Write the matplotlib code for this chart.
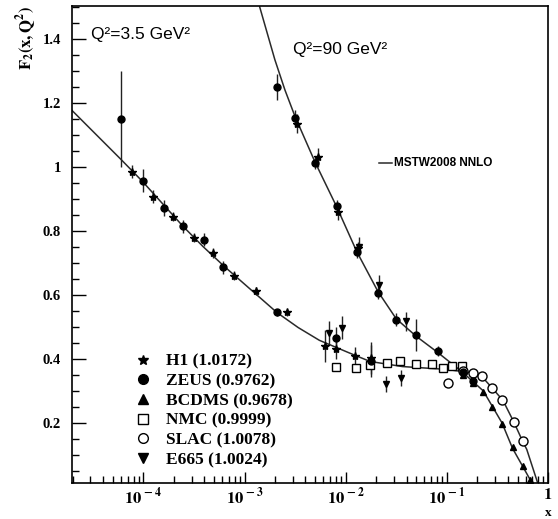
import numpy as np
import matplotlib
matplotlib.use("Agg")
import matplotlib.pyplot as plt
from matplotlib.lines import Line2D
from matplotlib.ticker import FixedLocator, FuncFormatter, LogLocator, MultipleLocator

plt.rcParams['mathtext.fontset'] = 'stix'
plt.rcParams['font.family'] = 'Liberation Serif'

# MSTW2008 NNLO curves, (log10 x, F2)
th_lo_logx = [-4.71, -4.22, -4.01, -3.79, -3.61, -3.41, -3.20, -2.94, -2.68,
              -2.47, -2.26, -1.96, -1.76, -1.44, -1.0, -0.77, -0.64, -0.555, -0.445,
              -0.34, -0.25, -0.21, -0.11, -0.09]
th_lo_f2 = [1.178, 1.023, 0.955, 0.878, 0.815, 0.751, 0.689, 0.617, 0.545,
            0.498, 0.458, 0.418, 0.392, 0.376, 0.367, 0.357, 0.34, 0.31, 0.27,
            0.204, 0.142, 0.117, 0.02, 0.0]
th_hi_logx = [-2.85, -2.70, -2.60, -2.50, -2.30, -2.09, -1.89, -1.68, -1.50, -1.30,
              -1.09, -0.84, -0.64, -0.455, -0.35, -0.25, -0.16, -0.14]
th_hi_f2 = [1.50, 1.335, 1.24, 1.157, 1.013, 0.876, 0.735, 0.61, 0.525, 0.47,
            0.42, 0.357, 0.30, 0.20, 0.12, 0.064, 0.013, 0.0]

# Q2 = 3.5 GeV2 data
h1_lo_logx = [-4.11, -3.90, -3.71, -3.50, -3.31, -3.10, -2.89, -2.58, -2.20, -2.10, -1.91, -1.75]
h1_lo_f2 = [0.985, 0.907, 0.845, 0.779, 0.731, 0.660, 0.613, 0.545, 0.44, 0.43, 0.408, 0.404]
h1_lo_err = [0.02, 0.02, 0.015, 0.015, 0.015, 0.015, 0.012, 0.012, 0.05, 0.03, 0.03, 0.05]
zeus_lo_logx = [-4.22, -4.00, -3.80, -3.61, -3.40, -3.21, -2.68, -2.10, -1.75]
zeus_lo_f2 = [1.151, 0.957, 0.873, 0.814, 0.772, 0.686, 0.545, 0.464, 0.392]
zeus_lo_err = [0.15, 0.035, 0.025, 0.02, 0.02, 0.02, 0.01, 0.035, 0.05]
e665_lo_logx = [-2.16, -2.04, -1.60, -1.45]
e665_lo_f2 = [0.482, 0.498, 0.323, 0.34]
e665_lo_err = [0.035, 0.035, 0.025, 0.025]
nmc_logx = [-2.10, -1.90, -1.76, -1.59, -1.46, -1.30, -1.15, -1.04, -0.95, -0.85]
nmc_f2 = [0.375, 0.370, 0.382, 0.388, 0.392, 0.384, 0.384, 0.372, 0.377, 0.377]
slac_logx = [-0.99, -0.84, -0.74, -0.65, -0.555, -0.45, -0.34, -0.25]
slac_f2 = [0.326, 0.362, 0.357, 0.345, 0.31, 0.273, 0.204, 0.142]

# Q2 = 90 GeV2 data
zeus_hi_logx = [-2.68, -2.50, -2.30, -2.09, -1.89, -1.68, -1.50, -1.30, -1.09, -0.84, -0.74]
zeus_hi_f2 = [1.25, 1.154, 1.013, 0.878, 0.735, 0.607, 0.523, 0.476, 0.425, 0.358, 0.33]
zeus_hi_err = [0.04, 0.025, 0.02, 0.02, 0.02, 0.02, 0.02, 0.05, 0.015, 0.015, 0.015]
h1_hi_logx = [-2.48, -2.27, -2.08, -1.88]
h1_hi_f2 = [1.135, 1.03, 0.86, 0.745]
h1_hi_err = [0.03, 0.03, 0.025, 0.02]
e665_hi_logx = [-1.87, -1.67, -1.40]
e665_hi_f2 = [0.751, 0.632, 0.517]
e665_hi_err = [0.03, 0.03, 0.03]
bcdms_logx = [-0.84, -0.74, -0.64, -0.555, -0.455, -0.35, -0.25, -0.18]
bcdms_f2 = [0.35, 0.326, 0.295, 0.25, 0.195, 0.123, 0.064, 0.022]

legend_labels = ["H1 (1.0172)", "ZEUS (0.9762)", "BCDMS (0.9678)",
                 "NMC (0.9999)", "SLAC (1.0078)", "E665 (1.0024)"]


def lx(v):
    return 10.0 ** np.asarray(v)


fig = plt.figure(figsize=(5.58, 5.19), dpi=100)
ax = fig.add_axes([72 / 558, 36 / 519, 476 / 558, 477 / 519])

line_kw = dict(color='#2a2a2a', lw=1.1, zorder=2)
ax.plot(lx(th_lo_logx), th_lo_f2, **line_kw)
ax.plot(lx(th_hi_logx), th_hi_f2, **line_kw)

eb = dict(color='black', ecolor='#222222', elinewidth=1.0, capsize=0, ls='none', zorder=3)
ax.errorbar(lx(h1_lo_logx), h1_lo_f2, yerr=h1_lo_err, marker='*', ms=6, **eb)
ax.errorbar(lx(h1_hi_logx), h1_hi_f2, yerr=h1_hi_err, marker='*', ms=6, **eb)
ax.errorbar(lx(zeus_lo_logx), zeus_lo_f2, yerr=zeus_lo_err, marker='o', ms=5, **eb)
ax.errorbar(lx(zeus_hi_logx), zeus_hi_f2, yerr=zeus_hi_err, marker='o', ms=5, **eb)
ax.errorbar(lx(e665_lo_logx), e665_lo_f2, yerr=e665_lo_err, marker='v', ms=4.5, **eb)
ax.errorbar(lx(e665_hi_logx), e665_hi_f2, yerr=e665_hi_err, marker='v', ms=4.5, **eb)
ax.plot(lx(bcdms_logx), bcdms_f2, ls='none', marker='^', ms=4.5, color='black', zorder=3)
ax.plot(lx(nmc_logx), nmc_f2, ls='none', marker='s', ms=6, mfc='white', mec='black',
        mew=1.0, zorder=3)
ax.plot(lx(slac_logx), slac_f2, ls='none', marker='o', ms=6.5, mfc='white', mec='black',
        mew=1.0, zorder=3)

ax.set_xscale('log')
ax.set_xlim(1.97e-5, 1.0)
ax.set_ylim(0.012, 1.503)

ax.xaxis.set_major_locator(FixedLocator([1e-4, 1e-3, 1e-2, 1e-1, 1.0]))
ax.xaxis.set_minor_locator(LogLocator(base=10, subs=np.arange(2, 10), numticks=20))


def xfmt(v, pos):
    e = int(round(np.log10(v)))
    if e == 0:
        return r'$\mathbf{1}$'
    return r'$\mathbf{10^{\,%d}}$' % e


ax.xaxis.set_major_formatter(FuncFormatter(xfmt))
ax.yaxis.set_major_locator(FixedLocator([0.2, 0.4, 0.6, 0.8, 1.0, 1.2, 1.4]))
ax.yaxis.set_minor_locator(MultipleLocator(0.05))
ax.yaxis.set_major_formatter(FuncFormatter(lambda v, p: '1' if abs(v - 1) < 1e-6 else '%.1f' % v))

ax.tick_params(which='both', direction='in', top=False, right=False, width=1.0, color='black')
ax.tick_params(axis='y', which='major', length=10, labelsize=10.5, pad=8)
ax.tick_params(axis='y', which='minor', length=5)
ax.tick_params(axis='x', which='major', length=8, labelsize=12, pad=3)
ax.tick_params(axis='x', which='minor', length=5)
for lab in ax.get_yticklabels():
    lab.set_fontweight('bold')
for s in ax.spines.values():
    s.set_linewidth(1.2)

fig.text(27 / 558, 1 - 38 / 519, r'$\mathbf{F_2(x,Q^2)}$', rotation=90,
         ha='center', va='center', fontsize=12)
fig.text(548 / 558, 0.5 / 519, 'x', fontweight='bold', fontsize=9.5,
         ha='center', va='bottom')

sans = 'Liberation Sans'
ax.text(0.04, 0.94, 'Q²=3.5 GeV²', transform=ax.transAxes, family=sans,
        fontsize=12.5, va='center')
ax.text(0.465, 0.908, 'Q²=90 GeV²', transform=ax.transAxes, family=sans,
        fontsize=12.5, va='center')
ax.plot([0.645, 0.672], [0.671, 0.671], transform=ax.transAxes, color='#2a2a2a', lw=1.1)
ax.text(0.677, 0.671, 'MSTW2008 NNLO', transform=ax.transAxes, family=sans,
        fontsize=8.5, fontweight='bold', va='center')

handles = [
    Line2D([], [], ls='none', marker='*', ms=7, color='black'),
    Line2D([], [], ls='none', marker='o', ms=7, color='black'),
    Line2D([], [], ls='none', marker='^', ms=7, color='black'),
    Line2D([], [], ls='none', marker='s', ms=7, mfc='white', mec='black'),
    Line2D([], [], ls='none', marker='o', ms=7, mfc='white', mec='black'),
    Line2D([], [], ls='none', marker='v', ms=7, color='black'),
]
leg = ax.legend(handles, legend_labels, loc='upper left', bbox_to_anchor=(0.13, 0.271),
                frameon=False, handlelength=1.0, handletextpad=0.85, labelspacing=0.2,
                borderpad=0, borderaxespad=0,
                prop={'family': 'Liberation Serif', 'weight': 'bold', 'size': 12.5})

fig.savefig('out.png', dpi=100)
